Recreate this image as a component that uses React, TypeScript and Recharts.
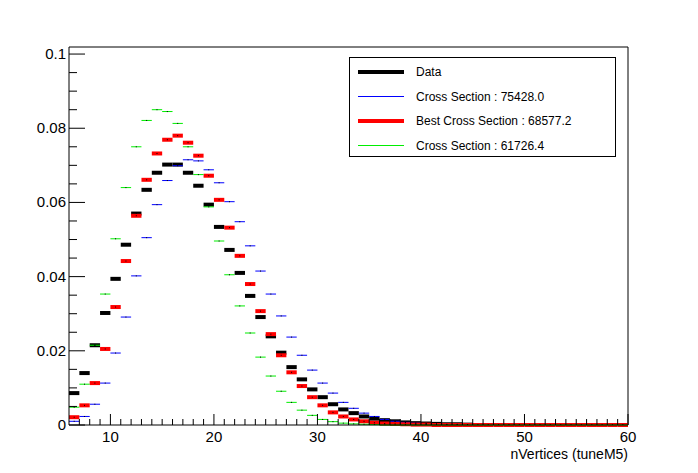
import React from 'react';
import { ComposedChart, Scatter, XAxis, YAxis, ErrorBar } from 'recharts';

const binStart = 6;
const dataVals = [0.0086,0.0140,0.0215,0.0302,0.0394,0.0486,0.0570,0.0634,0.0680,0.0702,0.0702,0.0680,0.0645,0.0594,0.0534,0.0472,0.0410,0.0348,0.0291,0.0239,0.0195,0.0156,0.0123,0.0096,0.0075,0.0056,0.0042,0.0032,0.0023,0.0017,0.0013,0.0010,0.0007,0.0005,0.0004,0.0003,0.0002,0.0002,0.0001];
const blueVals = [0.0010,0.0023,0.0056,0.0113,0.0194,0.0291,0.0402,0.0505,0.0594,0.0659,0.0699,0.0715,0.0712,0.0688,0.0653,0.0602,0.0548,0.0483,0.0415,0.0353,0.0294,0.0237,0.0188,0.0148,0.0113,0.0086,0.0061,0.0045,0.0032,0.0023,0.0015,0.0010,0.0007,0.0005,0.0003,0.0002];
const redVals = [0.0021,0.0053,0.0113,0.0205,0.0318,0.0442,0.0564,0.0661,0.0732,0.0769,0.0780,0.0761,0.0726,0.0672,0.0607,0.0532,0.0456,0.0380,0.0307,0.0245,0.0188,0.0142,0.0105,0.0075,0.0053,0.0034,0.0023,0.0015,0.0010,0.0006,0.0004,0.0003,0.0002,0.0001,0.0001,0,0,0,0,0,0,0,0,0,0,0,0,0,0,0,0,0,0,0];
const greenVals = [0.0048,0.0110,0.0215,0.0353,0.0502,0.0640,0.0750,0.0821,0.0850,0.0845,0.0813,0.0750,0.0675,0.0588,0.0496,0.0405,0.0321,0.0248,0.0183,0.0132,0.0091,0.0061,0.0040,0.0026,0.0015,0.0009,0.0005,0.0003,0.0002,0.0001,0,0,0,0,0,0,0,0,0,0,0,0,0,0,0,0,0,0,0,0,0,0,0,0];
const xTicks = [10, 20, 30, 40, 50, 60];
const xMinor = [7,8,9,11,12,13,14,15,16,17,18,19,21,22,23,24,25,26,27,28,29,31,32,33,34,35,36,37,38,39,41,42,43,44,45,46,47,48,49,51,52,53,54,55,56,57,58,59];
const yTicks = [0, 0.02, 0.04, 0.06, 0.08, 0.1];
const yMinor = [0.005,0.01,0.015,0.025,0.03,0.035,0.045,0.05,0.055,0.065,0.07,0.075,0.085,0.09,0.095];
const legendItems = [
  { name: 'Data', color: '#000', w: 4 },
  { name: 'Cross Section : 75428.0', color: '#0000ff', w: 1 },
  { name: 'Best Cross Section : 68577.2', color: '#ff0000', w: 4 },
  { name: 'Cross Section : 61726.4', color: '#00ee00', w: 1 },
];

const toPts = (vals: number[]) => vals.map((v, i) => ({ x: binStart + i + 0.5, y: v, e: 0.5 }));

const font = 'Liberation Sans, Arial, sans-serif';

const XTick = (props: any) => {
  const { x, y, payload } = props;
  const major = xTicks.includes(payload.value);
  return (
    <g>
      <line x1={x} x2={x} y1={y} y2={y - (major ? 11 : 6)} stroke="#000" />
      {major && <text x={x} y={y + 17} textAnchor="middle" fontSize={15} fontFamily={font}>{payload.value}</text>}
    </g>
  );
};
const YTick = (props: any) => {
  const { x, y, payload } = props;
  const v = payload.value;
  const major = yTicks.some((t) => Math.abs(t - v) < 1e-9);
  return (
    <g>
      <line x1={x} x2={x + (major ? 16 : 8)} y1={y} y2={y} stroke="#000" />
      {major && <text x={x - 3} y={y + 5} textAnchor="end" fontSize={15} fontFamily={font}>{v === 0 ? '0' : String(+v.toFixed(2))}</text>}
    </g>
  );
};

const series = [
  { vals: dataVals, color: '#000', w: 4 },
  { vals: blueVals, color: '#0000ff', w: 1 },
  { vals: redVals, color: '#ff0000', w: 4 },
  { vals: greenVals, color: '#00ee00', w: 1 },
];

export default function App() {
  return (
    <div style={{ position: 'absolute', left: 0, top: 0, width: 698, height: 473, background: '#fff' }}>
      <ComposedChart width={698} height={473} margin={{ top: 47, left: 29, right: 70, bottom: 18 }}>
        <XAxis type="number" dataKey="x" domain={[6, 60]} ticks={[...xTicks, ...xMinor]} interval={0}
          tick={<XTick />} tickLine={false} tickSize={0} tickMargin={0} height={30} stroke="#000" allowDataOverflow />
        <YAxis type="number" dataKey="y" domain={[0, 0.1019]} ticks={[...yTicks, ...yMinor]} interval={0}
          tick={<YTick />} tickLine={false} tickSize={0} tickMargin={0} width={40} stroke="#000" allowDataOverflow />
        {series.map((s, i) => (
          <Scatter key={i} data={toPts(s.vals)} isAnimationActive={false} fill={s.color}
            shape={(p: any) => <rect x={p.cx - 0.5} y={p.cy - 0.5} width={1} height={1} fill="#000" />}>
            <ErrorBar dataKey="e" direction="x" width={0} stroke={s.color} strokeWidth={s.w} isAnimationActive={false} />
          </Scatter>
        ))}
        <line x1={628} x2={628} y1={47} y2={425} stroke="#000" />
        <line x1={69} x2={628} y1={47} y2={47} stroke="#000" />
      </ComposedChart>
      <div style={{ position: 'absolute', left: 349, top: 57, width: 265, height: 98, border: '1px solid #000', background: '#fff', fontFamily: font, fontSize: 12 }}>
        {legendItems.map((it, i) => (
          <div key={i} style={{ position: 'absolute', left: 8, top: 4 + i * 24.5, height: 20, display: 'flex', alignItems: 'center' }}>
            <div style={{ width: 46, height: it.w, background: it.color }} />
            <span style={{ marginLeft: 12 }}>{it.name}</span>
          </div>
        ))}
      </div>
      <div style={{ position: 'absolute', right: 70, top: 446, fontFamily: font, fontSize: 14, lineHeight: '16px' }}>nVertices (tuneM5)</div>
    </div>
  );
}
